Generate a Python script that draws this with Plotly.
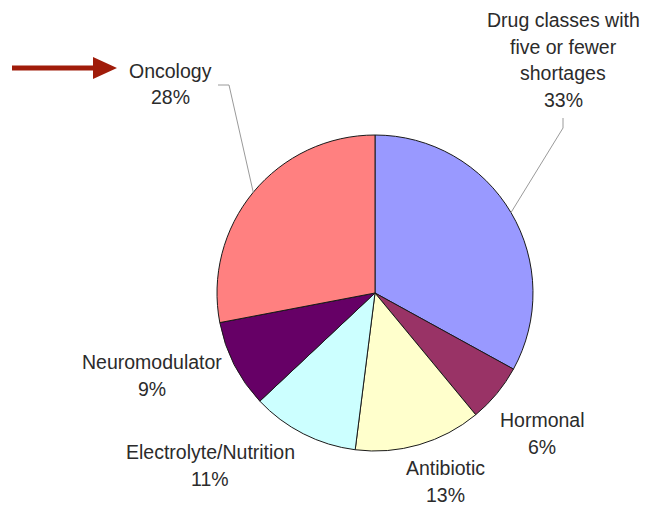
import math
import plotly.graph_objects as go

# Drug shortage share by drug class
categories = ["Drug classes with five or fewer shortages", "Hormonal", "Antibiotic",
              "Electrolyte/Nutrition", "Neuromodulator", "Oncology"]
shares = [33, 6, 13, 11, 9, 28]
label_lines = [
    ["Drug classes with", "five or fewer", "shortages"],
    ["Hormonal"], ["Antibiotic"], ["Electrolyte/Nutrition"], ["Neuromodulator"], ["Oncology"],
]
colors = ["#9999FF", "#993366", "#FFFFCC", "#CCFFFF", "#660066", "#FF8080"]

W, H = 648, 507
CX, CY, R = 375, 293, 158          # pie centre / radius in pixels (top-left origin)

# label block centres (pixels) and line pitch
label_pos = [(563, 20), (542, 420), (445, 468), (210, 452), (152, 362), (170, 71)]
PITCH = 26.5
TEXT_COLOR = "#2b2b2b"

fig = go.Figure(go.Pie(
    labels=categories, values=shares, sort=False, direction="clockwise", rotation=0,
    marker=dict(colors=colors, line=dict(color="#1a1a1a", width=1)),
    textinfo="none", hoverinfo="label+percent", showlegend=False,
    domain=dict(x=[(CX - R) / W, (CX + R) / W], y=[(H - CY - R) / H, (H - CY + R) / H]),
))

def px(x):
    return x / W

def py(y):
    return 1 - y / H

annotations = []
total = sum(shares)
for lines, val, (lx, ly) in zip(label_lines, shares, label_pos):
    rows = lines + [f"{round(100 * val / total)}%"]
    for i, txt in enumerate(rows):
        annotations.append(dict(
            x=px(lx), y=py(ly + i * PITCH), xref="paper", yref="paper", text=txt,
            showarrow=False, xanchor="center", yanchor="middle",
            font=dict(family="Liberation Sans, Arial, sans-serif", size=19.5, color=TEXT_COLOR),
        ))

# leader lines from the slice mid-angle on the rim to the label
shapes = []
cum = 0
mids = []
for v in shares:
    mids.append((cum + v / 2) / total * 2 * math.pi)
    cum += v

def rim(idx):
    a = mids[idx]
    return CX + R * math.sin(a), CY - R * math.cos(a)

leader_starts = {0: [(563, 118), (563, 128)], 5: [(218, 85), (229, 85)]}
for idx, pts in leader_starts.items():
    ex, ey = rim(idx)
    path_pts = pts + [(ex, ey)]
    d = "M " + " L ".join(f"{px(x)},{py(y)}" for x, y in path_pts)
    shapes.append(dict(type="path", path=d, xref="paper", yref="paper",
                       line=dict(color="#9a9a9a", width=1)))

# highlight arrow pointing at the Oncology label
arrow = [(12, 65.5), (93, 65.5), (93, 57), (117, 68), (93, 79), (93, 70.5), (12, 70.5)]
shapes.append(dict(type="path",
                   path="M " + " L ".join(f"{px(x)},{py(y)}" for x, y in arrow) + " Z",
                   xref="paper", yref="paper", fillcolor="#A01C0A", line=dict(width=0)))

fig.update_layout(
    width=W, height=H, margin=dict(l=0, r=0, t=0, b=0),
    paper_bgcolor="white", plot_bgcolor="white",
    annotations=annotations, shapes=shapes,
)

fig.write_html("out.html")
